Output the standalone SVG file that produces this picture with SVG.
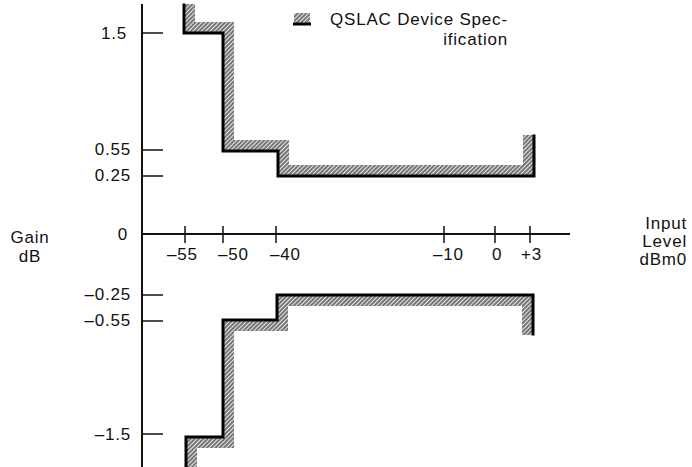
<svg xmlns="http://www.w3.org/2000/svg" width="692" height="467" viewBox="0 0 692 467">
<style>
text{font-family:"Liberation Sans",Arial,Helvetica,sans-serif;font-size:17px;fill:#111;letter-spacing:0.8px}
.r{text-anchor:end}
.m{text-anchor:middle}
.ax{stroke:#111;stroke-width:2;fill:none}
.tk{stroke:#111;stroke-width:1.5;fill:none}
.lim{stroke:#000;stroke-width:3;fill:none;stroke-linejoin:miter;stroke-linecap:square}
.band{fill:url(#hatch);stroke:none}
</style>
<defs>
<pattern id="hatch" patternUnits="userSpaceOnUse" width="3" height="3" patternTransform="rotate(45)">
<rect width="3" height="3" fill="#e6e6e6"/>
<line x1="1" y1="0" x2="1" y2="3" stroke="#3a3a3a" stroke-width="1.3"/>
</pattern>
</defs>
<rect width="692" height="467" fill="#fff"/>

<g id="axes">
<line class="ax" x1="142" y1="4" x2="142" y2="467"/>
<line class="ax" x1="142" y1="234" x2="570" y2="234"/>
<g class="tk">
<line x1="142" y1="33" x2="163" y2="33"/>
<line x1="142" y1="150" x2="163" y2="150"/>
<line x1="142" y1="176" x2="163" y2="176"/>
<line x1="142" y1="295" x2="163" y2="295"/>
<line x1="142" y1="321" x2="163" y2="321"/>
<line x1="142" y1="434" x2="163" y2="434"/>
<line x1="185" y1="226" x2="185" y2="243"/>
<line x1="223" y1="226" x2="223" y2="243"/>
<line x1="276" y1="226" x2="276" y2="243"/>
<line x1="444" y1="226" x2="444" y2="243"/>
<line x1="495" y1="226" x2="495" y2="243"/>
<line x1="530" y1="226" x2="530" y2="243"/>
</g>
</g>

<g id="y-labels">
<text class="r" x="127" y="39">1.5</text>
<text class="r" x="131" y="155">0.55</text>
<text class="r" x="131" y="181">0.25</text>
<text class="r" x="128" y="240">0</text>
<text class="r" x="131" y="300">–0.25</text>
<text class="r" x="131" y="326">–0.55</text>
<text class="r" x="131" y="440">–1.5</text>
</g>

<g id="x-labels">
<text x="167" y="260">–55</text>
<text x="218" y="260">–50</text>
<text x="270" y="260">–40</text>
<text x="433" y="260">–10</text>
<text x="492" y="260">0</text>
<text x="521" y="260">+3</text>
</g>

<g id="axis-titles">
<text class="m" x="30" y="243">Gain</text>
<text class="m" x="30" y="262">dB</text>
<text class="r" x="687" y="229">Input</text>
<text class="r" x="687" y="247">Level</text>
<text class="r" x="687" y="265">dBm0</text>
</g>

<g id="upper-limit">
<polygon class="band" points="184,4 184,33 223,33 223,151 278,151 278,176 534,176 534,135 523,135 523,165 289,165 289,140 234,140 234,22 195,22 195,4"/>
<polyline class="lim" points="184,5 184,33 223,33 223,151 278,151 278,176 534,176 534,136"/>
</g>

<g id="lower-limit">
<polygon class="band" points="186,467 186,437 223,437 223,320 277,320 277,295 533,295 533,335 522,335 522,306 288,306 288,331 234,331 234,448 197,448 197,467"/>
<polyline class="lim" points="186,466 186,437 223,437 223,320 277,320 277,295 533,295 533,334"/>
</g>

<g id="legend">
<rect x="294" y="13" width="16" height="10" fill="url(#hatch)"/>
<line x1="293" y1="24" x2="311" y2="24" stroke="#000" stroke-width="3"/>
<text x="330" y="25">QSLAC Device Spec-</text>
<text class="r" x="508" y="45">ification</text>
</g>
</svg>
